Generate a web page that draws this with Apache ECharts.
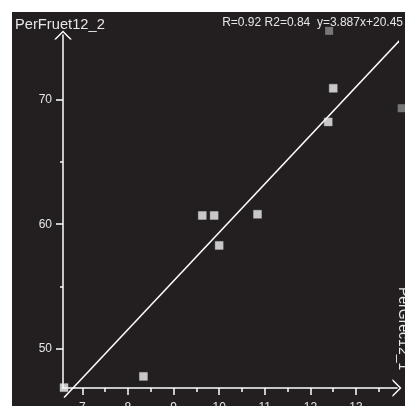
<!DOCTYPE html>
<html>
<head>
<meta charset="utf-8">
<script src="https://cdn.jsdelivr.net/npm/echarts@6/dist/echarts.min.js"></script>
<style>
  html, body { margin: 0; padding: 0; background: #ffffff; }
  #chart { width: 405px; height: 406px; }
</style>
</head>
<body>
<div id="chart"></div>
<script>
// measured points (x = PerGrec12_1, y = PerFruet12_2)
var pointX = [6.60, 8.34, 9.63, 9.89, 10.00, 10.84, 12.39, 12.50];
var pointY = [46.9, 47.8, 60.7, 60.7, 58.3, 60.8, 68.2, 70.9];
// points lying outside the axis range, drawn grey
var outX = [12.41, 14.00];
var outY = [75.5, 69.3];
// fitted line end points
var lineX = [6.60, 14.00];
var lineY = [46.1, 74.9];
// ticks
var xTicks = [7, 8, 9, 10, 11, 12, 13];
var xMinor = [7.5, 8.5, 9.5, 10.5, 11.5, 12.5, 13.5];
var yTicks = [50, 60, 70];
var yMinor = [55, 65];
var xRange = [6.577, 13.898];
var yRange = [46.87, 75.17];

var statText = 'R=0.92 R2=0.84  y=3.887x+20.45';
var yName = 'PerFruet12_2';
var xName = 'PerGrec12_1';

var FONT = '"Liberation Sans", Arial, sans-serif';
var FG = '#ffffff';
var TXT = '#e6e6e6';

function zip(a, b) {
  return a.map(function (v, i) { return [v, b[i]]; });
}

var arrow = 'path://M0,9 L9,0 L18,9 L16,9 L9,2 L2,9 Z';

var chart = echarts.init(document.getElementById('chart'), null, { renderer: 'canvas' });

var baseX = {
  type: 'value', min: xRange[0], max: xRange[1], gridIndex: 0, position: 'bottom',
  splitLine: { show: false }
};
var baseY = {
  type: 'value', min: yRange[0], max: yRange[1], gridIndex: 0, position: 'left',
  splitLine: { show: false }
};

chart.setOption({
  animation: false,
  backgroundColor: 'transparent',
  grid: { left: 63, top: 35, right: 8, bottom: 18, outerBoundsMode: 'none', containLabel: false },
  graphic: [
    { type: 'rect', z: -10, silent: true, shape: { x: 12, y: 12, width: 400, height: 400 }, style: { fill: '#231f20' } },
    { type: 'text', x: 15, y: 25, style: { text: yName, fill: TXT, font: '14.7px ' + FONT, textVerticalAlign: 'middle' } },
    { type: 'text', x: 403, y: 23, style: { text: statText, fill: TXT, font: '12px ' + FONT, textAlign: 'right', textVerticalAlign: 'middle' } },
    { type: 'text', x: 396, y: 287, rotation: -Math.PI / 2, style: { text: xName, fill: TXT, font: '14px ' + FONT, textAlign: 'left', textVerticalAlign: 'bottom' } }
  ],
  xAxis: [
    Object.assign({}, baseX, {
      axisLine: { show: true, lineStyle: { color: FG, width: 1.5 }, symbol: ['none', arrow], symbolSize: [18, 9] },
      axisTick: { show: true, length: 7, lineStyle: { color: FG, width: 1.5 }, customValues: xTicks },
      axisLabel: { show: true, margin: 14, color: TXT, fontSize: 12, fontFamily: FONT, customValues: xTicks }
    }),
    Object.assign({}, baseX, {
      axisLine: { show: false },
      axisTick: { show: true, length: 4, lineStyle: { color: FG, width: 1.5 }, customValues: xMinor },
      axisLabel: { show: false }
    })
  ],
  yAxis: [
    Object.assign({}, baseY, {
      axisLine: { show: true, lineStyle: { color: FG, width: 1.5 }, symbol: ['none', arrow], symbolSize: [18, 9] },
      axisTick: { show: true, length: 7, lineStyle: { color: FG, width: 1.5 }, customValues: yTicks },
      axisLabel: { show: true, margin: 11, color: TXT, fontSize: 12, fontFamily: FONT, customValues: yTicks }
    }),
    Object.assign({}, baseY, {
      axisLine: { show: false },
      axisTick: { show: true, length: 3, lineStyle: { color: FG, width: 1.5 }, customValues: yMinor },
      axisLabel: { show: false }
    })
  ],
  series: [
    {
      type: 'line', xAxisIndex: 0, yAxisIndex: 0, data: zip(lineX, lineY),
      showSymbol: false, clip: false, silent: true,
      lineStyle: { color: FG, width: 1.5 }, z: 2
    },
    {
      type: 'scatter', xAxisIndex: 0, yAxisIndex: 0, data: zip(pointX, pointY),
      symbol: 'rect', symbolSize: 8, clip: false,
      itemStyle: { color: '#f2f2f2', borderColor: '#c8c8c8', borderWidth: 0.5 }, z: 3
    },
    {
      type: 'scatter', xAxisIndex: 0, yAxisIndex: 0, data: zip(outX, outY),
      symbol: 'rect', symbolSize: 8, clip: false,
      itemStyle: { color: '#8c8c8c' }, z: 3
    }
  ]
});
</script>
</body>
</html>
